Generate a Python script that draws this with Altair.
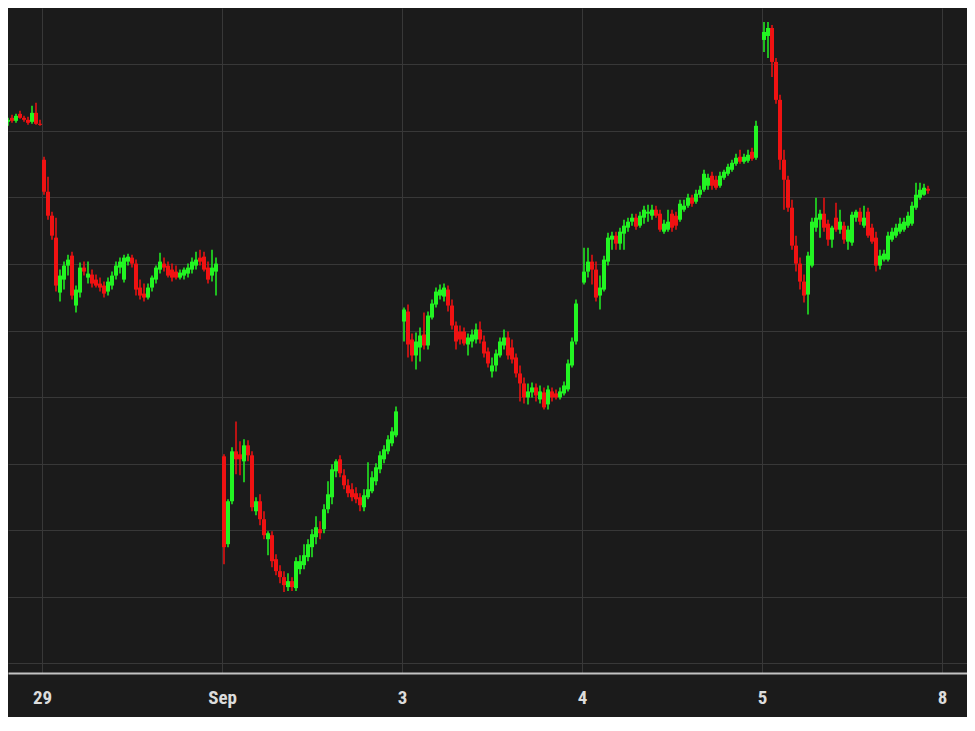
import json
import altair as alt
import pandas as pd

# ---- axis / session info -------------------------------------------------
DAY_LABELS = ["29", "Sep", "3", "4", "5", "8"]      # labels at session starts 0..5
BARS_PER_SESSION = 45                                # bar slots per session
GRID_LEVELS = [6340, 6360, 6380, 6400, 6420, 6440, 6460, 6480, 6500, 6520]

# ---- intraday bars: (open, high, low, close) ------------------------------
AUG28 = [  # session -1, visible part starts at slot 34
    (6499.7, 6501.5, 6498.5, 6500.9), (6500.9, 6503.3, 6500.3, 6502.7),
    (6502.7, 6503.9, 6501.5, 6503.3), (6503.9, 6504.8, 6502.4, 6503.0),
    (6503.0, 6505.1, 6502.4, 6504.5), (6505.1, 6506.0, 6503.6, 6503.9),
    (6503.9, 6504.5, 6502.7, 6503.3), (6503.3, 6504.2, 6501.8, 6502.4),
    (6502.7, 6507.5, 6502.1, 6505.4), (6505.4, 6508.4, 6501.8, 6502.1),
    (6502.1, 6503.3, 6501.5, 6501.8),
]
AUG29 = [
    (6491.3, 6492.2, 6480.8, 6481.7), (6481.7, 6486.2, 6473.3, 6474.5),
    (6474.5, 6475.7, 6467.3, 6468.5), (6467.9, 6473.9, 6451.7, 6453.5),
    (6451.4, 6458.3, 6448.7, 6456.5), (6455.3, 6460.7, 6452.3, 6459.5),
    (6459.5, 6462.8, 6456.5, 6461.3), (6462.5, 6463.7, 6449.3, 6450.5),
    (6447.5, 6453.5, 6445.4, 6452.3), (6451.4, 6460.4, 6449.9, 6458.9),
    (6458.9, 6460.7, 6456.5, 6457.7), (6455.9, 6460.7, 6454.1, 6457.1),
    (6456.8, 6458.3, 6452.9, 6454.1), (6455.3, 6456.8, 6452.9, 6453.5),
    (6454.1, 6455.9, 6451.7, 6452.9), (6453.5, 6454.7, 6449.9, 6451.1),
    (6451.7, 6455.9, 6450.5, 6454.7), (6453.5, 6457.7, 6452.3, 6456.5),
    (6456.5, 6460.7, 6455.3, 6459.5), (6458.9, 6461.9, 6457.1, 6460.7),
    (6455.3, 6462.8, 6454.4, 6461.9), (6460.7, 6463.1, 6459.5, 6462.2),
    (6461.9, 6462.8, 6458.9, 6460.1), (6460.1, 6461.3, 6450.5, 6452.3),
    (6452.9, 6455.3, 6449.3, 6450.5), (6451.1, 6454.1, 6448.7, 6449.9),
    (6449.9, 6454.1, 6449.3, 6452.9), (6452.9, 6456.5, 6451.7, 6455.9),
    (6455.3, 6459.5, 6454.1, 6458.9), (6458.3, 6463.4, 6457.1, 6460.7),
    (6460.1, 6461.9, 6457.7, 6458.9), (6459.5, 6460.7, 6455.9, 6456.5),
    (6458.3, 6460.1, 6454.7, 6455.9), (6457.7, 6459.5, 6455.3, 6455.9),
    (6455.9, 6458.3, 6455.3, 6457.4), (6456.5, 6458.9, 6455.3, 6458.3),
    (6457.1, 6460.1, 6455.9, 6458.9), (6458.3, 6461.9, 6457.1, 6460.7),
    (6459.5, 6463.7, 6458.3, 6461.3), (6461.9, 6464.3, 6459.5, 6460.7),
    (6462.2, 6463.7, 6457.7, 6458.3), (6458.9, 6460.7, 6454.1, 6455.3),
    (6456.5, 6464.3, 6454.7, 6458.9), (6457.7, 6461.9, 6450.5, 6460.1),
]
SEP02 = [
    (6402.2, 6402.8, 6369.8, 6374.9), (6375.8, 6389.3, 6374.9, 6388.7),
    (6388.7, 6404.9, 6387.8, 6403.7), (6403.7, 6412.7, 6396.8, 6401.3),
    (6402.8, 6406.7, 6396.5, 6401.3), (6400.7, 6407.3, 6394.4, 6405.5),
    (6405.5, 6407.0, 6400.7, 6402.5), (6402.5, 6403.7, 6385.7, 6386.9),
    (6385.7, 6389.9, 6384.5, 6388.7), (6388.7, 6390.8, 6381.5, 6383.3),
    (6383.3, 6385.7, 6377.3, 6378.5), (6377.3, 6379.7, 6372.5, 6379.1),
    (6378.5, 6379.7, 6368.9, 6370.7), (6371.3, 6372.8, 6366.5, 6367.7),
    (6367.7, 6369.5, 6364.1, 6365.9), (6365.9, 6367.7, 6361.4, 6363.5),
    (6362.9, 6367.1, 6361.7, 6364.7), (6364.7, 6365.9, 6361.7, 6362.9),
    (6362.6, 6371.9, 6361.7, 6370.7), (6368.3, 6372.5, 6366.8, 6370.7),
    (6369.5, 6375.8, 6368.3, 6372.5), (6371.9, 6377.3, 6370.7, 6375.8),
    (6374.9, 6380.3, 6371.9, 6378.8), (6377.9, 6384.2, 6375.8, 6380.9),
    (6380.3, 6382.7, 6377.3, 6379.1), (6380.3, 6387.8, 6379.1, 6386.3),
    (6386.3, 6394.7, 6385.1, 6390.8), (6389.9, 6399.8, 6387.8, 6398.3),
    (6397.7, 6401.3, 6395.9, 6400.7), (6401.3, 6402.5, 6395.9, 6397.1),
    (6396.5, 6398.3, 6392.3, 6393.5), (6393.5, 6395.3, 6389.9, 6391.1),
    (6392.3, 6394.1, 6388.7, 6389.9), (6391.1, 6392.9, 6388.1, 6389.3),
    (6389.9, 6391.1, 6385.7, 6387.5), (6386.9, 6392.3, 6385.7, 6390.5),
    (6389.9, 6400.4, 6389.3, 6392.3), (6391.7, 6397.7, 6391.1, 6395.9),
    (6394.7, 6400.1, 6393.5, 6398.9), (6398.3, 6403.7, 6397.1, 6402.5),
    (6401.3, 6405.5, 6400.1, 6404.3), (6403.7, 6408.5, 6402.8, 6407.3),
    (6406.1, 6410.9, 6405.2, 6409.7), (6408.5, 6417.2, 6407.9, 6415.7),
]
SEP03 = [
    (6442.7, 6446.9, 6436.7, 6446.3), (6445.7, 6447.8, 6431.9, 6435.8),
    (6437.3, 6439.1, 6430.7, 6432.5), (6432.5, 6439.4, 6428.3, 6436.7),
    (6434.9, 6440.9, 6430.7, 6438.5), (6438.8, 6445.4, 6434.3, 6435.5),
    (6435.5, 6445.7, 6434.3, 6444.5), (6443.9, 6449.3, 6443.3, 6448.1),
    (6447.8, 6452.9, 6446.9, 6451.7), (6450.5, 6453.8, 6449.3, 6452.3),
    (6450.2, 6454.1, 6448.7, 6452.9), (6452.3, 6453.5, 6445.7, 6447.5),
    (6447.5, 6449.3, 6440.3, 6441.5), (6441.5, 6442.7, 6434.3, 6436.7),
    (6439.7, 6441.5, 6435.8, 6437.3), (6439.7, 6440.9, 6435.5, 6436.1),
    (6435.8, 6439.1, 6432.5, 6437.9), (6436.7, 6440.3, 6434.9, 6438.8),
    (6437.3, 6442.1, 6436.1, 6440.3), (6440.3, 6442.7, 6436.1, 6437.3),
    (6436.7, 6438.5, 6431.9, 6433.1), (6433.7, 6434.9, 6428.9, 6430.1),
    (6427.7, 6431.9, 6425.9, 6429.5), (6429.5, 6434.3, 6427.7, 6433.1),
    (6432.5, 6437.9, 6431.9, 6436.7), (6435.5, 6440.3, 6434.3, 6437.9),
    (6437.9, 6439.7, 6431.3, 6432.5), (6434.9, 6437.3, 6430.1, 6431.3),
    (6431.9, 6433.1, 6425.9, 6427.1), (6427.1, 6429.5, 6418.7, 6424.1),
    (6424.1, 6425.9, 6418.1, 6419.9), (6419.9, 6424.1, 6417.8, 6421.7),
    (6421.4, 6424.4, 6419.9, 6422.9), (6422.9, 6424.1, 6418.7, 6420.5),
    (6419.3, 6423.5, 6418.1, 6421.7), (6421.4, 6422.9, 6416.3, 6416.9),
    (6417.8, 6423.5, 6416.3, 6422.3), (6421.7, 6422.9, 6418.7, 6419.9),
    (6421.1, 6422.3, 6419.3, 6419.9), (6419.9, 6422.9, 6419.3, 6421.7),
    (6421.1, 6424.7, 6420.5, 6423.5), (6422.3, 6431.3, 6421.7, 6430.1),
    (6429.5, 6437.9, 6428.9, 6436.7), (6436.7, 6449.3, 6435.8, 6448.1),
]
SEP04 = [
    (6454.4, 6464.9, 6453.8, 6457.7), (6457.7, 6464.9, 6455.9, 6460.7),
    (6460.7, 6462.8, 6453.8, 6458.3), (6458.3, 6460.7, 6448.7, 6449.9),
    (6450.5, 6456.5, 6446.3, 6452.9), (6452.3, 6462.5, 6451.7, 6461.3),
    (6460.7, 6469.4, 6459.5, 6467.9), (6467.3, 6469.7, 6464.3, 6468.5),
    (6468.5, 6469.7, 6464.3, 6466.1), (6466.1, 6470.9, 6464.3, 6469.7),
    (6469.1, 6473.3, 6464.3, 6471.5), (6470.9, 6473.9, 6469.7, 6472.7),
    (6472.7, 6475.1, 6471.5, 6473.9), (6473.9, 6475.1, 6470.3, 6471.2),
    (6471.5, 6475.7, 6470.9, 6474.5), (6473.9, 6477.5, 6472.1, 6476.3),
    (6475.1, 6477.8, 6472.7, 6475.7), (6474.5, 6477.8, 6473.3, 6476.3),
    (6476.3, 6477.5, 6473.9, 6474.5), (6475.1, 6476.3, 6469.7, 6470.3),
    (6469.7, 6473.3, 6469.1, 6472.1), (6470.3, 6476.3, 6469.7, 6472.7),
    (6475.1, 6476.3, 6469.7, 6470.9), (6474.5, 6475.7, 6470.3, 6471.5),
    (6473.3, 6479.3, 6472.7, 6478.1), (6476.3, 6479.3, 6475.7, 6477.5),
    (6477.5, 6481.1, 6476.9, 6479.9), (6479.9, 6480.8, 6477.2, 6478.1),
    (6478.7, 6482.3, 6478.1, 6481.1), (6480.8, 6483.5, 6479.9, 6482.3),
    (6482.3, 6488.3, 6481.7, 6487.1), (6483.5, 6487.1, 6482.3, 6485.9),
    (6486.5, 6487.7, 6482.3, 6483.5), (6485.3, 6486.5, 6482.3, 6482.9),
    (6483.5, 6487.7, 6482.9, 6486.5), (6485.9, 6488.3, 6485.3, 6487.7),
    (6487.1, 6490.1, 6486.5, 6489.2), (6488.3, 6491.3, 6487.7, 6490.4),
    (6490.1, 6493.1, 6489.5, 6491.9), (6492.2, 6494.3, 6490.1, 6490.7),
    (6490.7, 6493.1, 6490.1, 6492.2), (6491.0, 6494.3, 6490.4, 6492.8),
    (6493.7, 6494.9, 6491.0, 6491.6), (6491.9, 6503.0, 6491.3, 6501.5),
]
SEP05 = [
    (6527.3, 6532.7, 6523.7, 6529.7), (6528.5, 6532.7, 6521.9, 6530.9),
    (6530.9, 6531.8, 6516.2, 6520.7), (6520.7, 6521.9, 6508.1, 6509.3),
    (6509.3, 6510.8, 6488.3, 6491.3), (6491.3, 6494.3, 6476.3, 6485.3),
    (6485.3, 6486.5, 6475.7, 6476.9), (6476.9, 6479.3, 6464.3, 6465.5),
    (6465.5, 6468.5, 6457.7, 6460.1), (6460.1, 6461.9, 6452.3, 6454.7),
    (6454.7, 6456.8, 6448.4, 6450.5), (6450.8, 6463.7, 6444.8, 6462.5),
    (6459.5, 6473.9, 6458.9, 6472.7), (6470.9, 6479.9, 6469.7, 6473.9),
    (6473.3, 6476.3, 6467.9, 6475.1), (6475.1, 6479.9, 6469.7, 6470.9),
    (6472.1, 6473.3, 6465.5, 6467.3), (6467.3, 6471.5, 6464.9, 6470.9),
    (6473.9, 6478.4, 6469.7, 6470.3), (6470.3, 6476.3, 6469.1, 6472.7),
    (6471.5, 6472.7, 6466.1, 6467.3), (6466.7, 6471.5, 6464.3, 6470.3),
    (6466.4, 6475.7, 6465.5, 6474.8), (6473.9, 6476.3, 6472.7, 6475.7),
    (6475.7, 6476.9, 6471.8, 6472.7), (6471.5, 6477.5, 6470.9, 6473.9),
    (6475.7, 6476.9, 6467.9, 6468.5), (6470.9, 6472.1, 6466.1, 6466.7),
    (6467.9, 6469.7, 6457.7, 6459.5), (6459.5, 6464.3, 6458.3, 6462.5),
    (6461.3, 6464.3, 6460.7, 6463.1), (6461.3, 6469.7, 6460.7, 6468.5),
    (6467.3, 6470.9, 6466.7, 6469.7), (6468.5, 6472.1, 6467.9, 6470.9),
    (6469.7, 6473.9, 6469.1, 6472.1), (6470.3, 6473.9, 6469.7, 6472.7),
    (6471.5, 6475.7, 6470.9, 6474.5), (6472.1, 6478.7, 6471.5, 6477.5),
    (6476.9, 6484.4, 6476.3, 6480.8), (6479.9, 6484.4, 6479.3, 6482.3),
    (6480.8, 6484.1, 6480.5, 6482.9), (6482.6, 6483.5, 6481.1, 6482.0),
]

# (session index, first bar slot, bars)
SESSIONS = [(-1, 34, AUG28), (0, 0, AUG29), (1, 0, SEP02),
            (2, 0, SEP03), (3, 0, SEP04), (4, 0, SEP05)]

rows = []
for sess, first, bars in SESSIONS:
    for k, (o, h, l, c) in enumerate(bars):
        rows.append({"t": sess + (first + k + 0.5) / BARS_PER_SESSION,
                     "open": o, "high": h, "low": l, "close": c})
df = pd.DataFrame(rows)

BG = "#1b1b1b"
GRID = "#383838"
GREEN = "#22f522"
RED = "#f01212"
FONT = "Liberation Sans Narrow, Roboto Condensed, Liberation Sans, sans-serif"

label_expr = f"{json.dumps(DAY_LABELS)}[round(datum.value)]"

x_enc = alt.X(
    "t:Q",
    scale=alt.Scale(domain=[-0.18889, 5.13889], nice=False, zero=False, padding=0),
    axis=alt.Axis(values=list(range(len(DAY_LABELS))), labelExpr=label_expr,
                  title=None, grid=True, gridColor=GRID, gridWidth=1,
                  ticks=False, domain=True, domainColor="#c4c4c4", domainWidth=2,
                  labelColor="#dcdcdc", labelFont=FONT, labelFontSize=19,
                  labelFontWeight="bold", labelPadding=15, labelFlush=False,
                  labelOverlap=False),
)
y_scale = alt.Scale(domain=[6337.1, 6536.9], nice=False, zero=False, padding=0)
y_axis = alt.Axis(values=GRID_LEVELS, labels=False, ticks=False, domain=False,
                  grid=True, gridColor=GRID, gridWidth=1, title=None)

color = alt.condition("datum.close >= datum.open", alt.value(GREEN), alt.value(RED))

base = alt.Chart(df)
wicks = base.mark_rule(strokeWidth=1.5, clip=True).encode(
    x=x_enc,
    y=alt.Y("low:Q", scale=y_scale, axis=y_axis),
    y2="high:Q",
    color=color,
)
bodies = base.mark_bar(size=4, clip=True).encode(
    x=x_enc,
    y=alt.Y("open:Q", scale=y_scale, axis=y_axis),
    y2="close:Q",
    color=color,
)

chart = (
    alt.layer(wicks, bodies)
    .properties(width=959, height=665,
                padding={"left": 0, "top": 0, "right": 0, "bottom": 10},
                background=BG)
    .configure_view(stroke=None, fill=BG)
)

chart.save("out.html", embed_options={"renderer": "svg", "actions": False})
